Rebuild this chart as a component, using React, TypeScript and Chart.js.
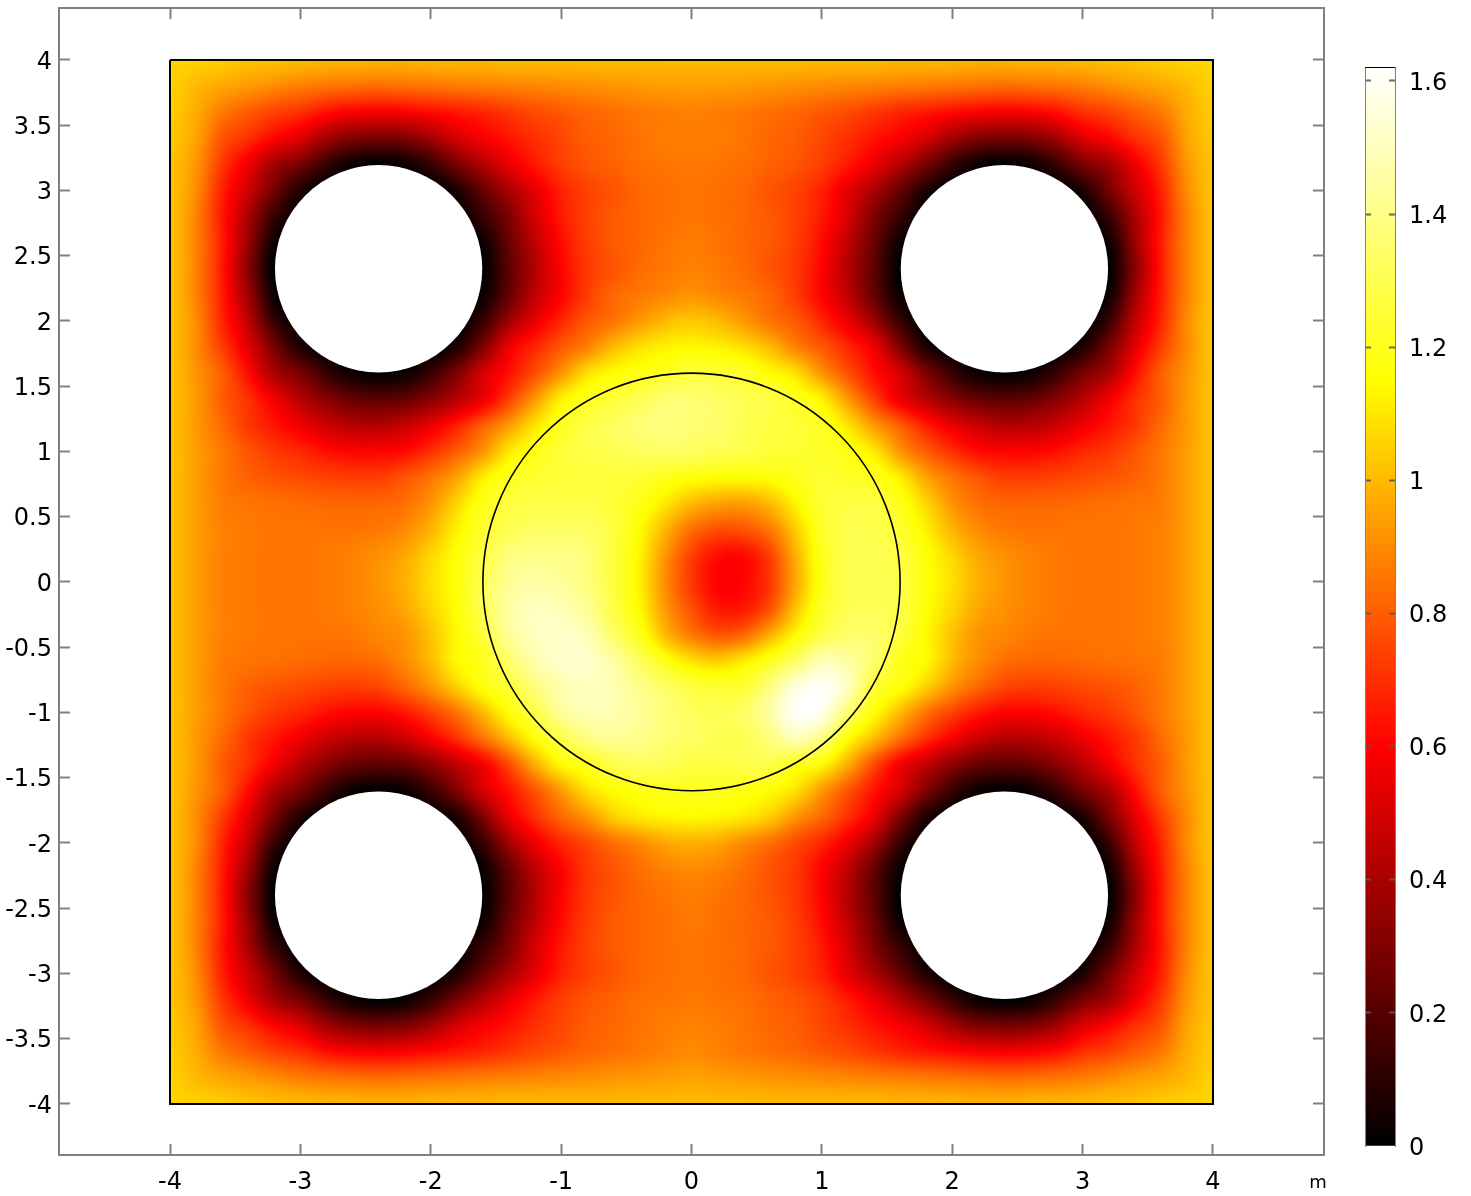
import React, { useEffect, useRef } from "react";
import { Chart, registerables } from "chart.js";

Chart.register(...registerables);

// Grid nodes run from -4 to 4 in 0.2 m steps; rows run from y = 4 down to y = -4.
const xNodes = [-4,-3.8,-3.6,-3.4,-3.2,-3,-2.8,-2.6,-2.4,-2.2,-2,-1.8,-1.6,-1.4,-1.2,-1,-0.8,-0.6,-0.4,-0.2,0,0.2,0.4,0.6,0.8,1,1.2,1.4,1.6,1.8,2,2.2,2.4,2.6,2.8,3,3.2,3.4,3.6,3.8,4];
const yNodes = [4,3.8,3.6,3.4,3.2,3,2.8,2.6,2.4,2.2,2,1.8,1.6,1.4,1.2,1,0.8,0.6,0.4,0.2,0,-0.2,-0.4,-0.6,-0.8,-1,-1.2,-1.4,-1.6,-1.8,-2,-2.2,-2.4,-2.6,-2.8,-3,-3.2,-3.4,-3.6,-3.8,-4];
const fieldRows = [
[1.06,1.05,1.04,1.02,1.01,1,.99,.99,.98,.98,.99,.99,.99,1,1,1,1,1,1,1,1,1,1,1,1,1,1,1,.99,.99,.99,.98,.98,.99,.99,1,1.01,1.02,1.04,1.05,1.06],
[1.05,1,.96,.93,.9,.87,.85,.84,.83,.84,.85,.86,.87,.88,.89,.9,.91,.92,.93,.94,.94,.94,.93,.92,.91,.9,.89,.88,.87,.86,.85,.84,.83,.84,.85,.87,.9,.93,.96,1,1.05],
[1.04,.97,.86,.8,.74,.7,.63,.59,.58,.59,.62,.65,.68,.72,.76,.79,.82,.84,.86,.87,.88,.87,.86,.84,.82,.79,.76,.72,.68,.65,.62,.59,.58,.59,.63,.7,.74,.8,.86,.97,1.04],
[1.03,.95,.78,.7,.6,.52,.38,.3,.28,.3,.38,.5,.58,.64,.7,.75,.8,.82,.85,.87,.87,.87,.85,.82,.8,.75,.7,.64,.58,.5,.38,.3,.28,.3,.38,.52,.6,.7,.78,.95,1.03],
[1.02,.92,.72,.56,.38,.28,.13,.03,0,.03,.13,.28,.42,.55,.65,.73,.78,.81,.84,.85,.86,.85,.84,.81,.78,.73,.65,.55,.42,.28,.13,.03,0,.03,.13,.28,.38,.56,.72,.92,1.02],
[1.02,.9,.67,.48,.27,.07,0,0,0,0,0,.07,.24,.4,.54,.67,.74,.78,.82,.84,.85,.84,.82,.78,.74,.67,.54,.4,.24,.07,0,0,0,0,0,.07,.27,.48,.67,.9,1.02],
[1.02,.88,.65,.4,.13,0,0,0,0,0,0,0,.13,.3,.5,.65,.74,.79,.82,.84,.85,.84,.82,.79,.74,.65,.5,.3,.13,0,0,0,0,0,0,0,.13,.4,.65,.88,1.02],
[1.02,.88,.66,.36,.03,0,0,0,0,0,0,0,.03,.25,.45,.62,.73,.79,.82,.85,.87,.85,.82,.79,.73,.62,.45,.25,.03,0,0,0,0,0,0,0,.03,.36,.66,.88,1.02],
[1.02,.88,.65,.32,0,0,0,0,0,0,0,0,0,.22,.42,.6,.72,.78,.83,.86,.88,.86,.83,.78,.72,.6,.42,.22,0,0,0,0,0,0,0,0,0,.32,.65,.88,1.02],
[1.02,.88,.66,.37,.03,0,0,0,0,0,0,0,.03,.24,.45,.6,.73,.82,.86,.89,.92,.89,.86,.82,.73,.6,.45,.24,.03,0,0,0,0,0,0,0,.03,.37,.66,.88,1.02],
[1.02,.9,.68,.45,.13,0,0,0,0,0,0,0,.13,.37,.55,.68,.79,.85,.93,1,1.03,1,.93,.85,.79,.68,.55,.37,.13,0,0,0,0,0,0,0,.13,.45,.68,.9,1.02],
[1.02,.9,.73,.53,.28,.07,0,0,0,0,0,.07,.3,.56,.68,.79,.88,1,1.08,1.12,1.14,1.12,1.08,1,.88,.79,.68,.56,.3,.07,0,0,0,0,0,.07,.28,.53,.73,.9,1.02],
[1.02,.92,.8,.62,.4,.28,.13,.03,0,.03,.13,.3,.5,.63,.77,.92,1.08,1.15,1.18,1.22,1.26,1.25,1.22,1.15,1.08,.92,.77,.63,.5,.3,.13,.03,0,.03,.13,.28,.4,.62,.8,.92,1.02],
[1.02,.93,.8,.7,.57,.43,.32,.24,.22,.24,.32,.43,.56,.74,.93,1.12,1.2,1.25,1.3,1.36,1.36,1.33,1.3,1.27,1.2,1.12,.93,.74,.56,.43,.32,.24,.22,.24,.32,.43,.57,.7,.8,.93,1.02],
[1.02,.93,.83,.72,.64,.56,.48,.43,.42,.47,.55,.66,.8,.93,1.09,1.2,1.28,1.32,1.36,1.38,1.36,1.34,1.3,1.27,1.25,1.2,1.09,.93,.8,.66,.55,.47,.42,.43,.48,.56,.64,.72,.83,.93,1.02],
[1.02,.94,.86,.78,.72,.68,.63,.6,.6,.62,.7,.8,.92,1.1,1.18,1.25,1.28,1.3,1.32,1.33,1.32,1.3,1.28,1.25,1.24,1.22,1.18,1.1,.92,.8,.7,.62,.6,.6,.63,.68,.72,.78,.86,.94,1.02],
[1.02,.94,.86,.81,.78,.76,.74,.73,.73,.78,.85,.95,1.11,1.2,1.24,1.25,1.26,1.26,1.24,1.2,1.17,1.15,1.15,1.16,1.2,1.24,1.22,1.2,1.11,.95,.85,.78,.73,.73,.74,.76,.78,.81,.86,.94,1.02],
[1.02,.94,.87,.85,.84,.83,.82,.82,.82,.84,.92,1.06,1.19,1.26,1.28,1.28,1.28,1.25,1.19,1.1,1,.95,.94,1,1.13,1.24,1.27,1.27,1.19,1.06,.92,.84,.82,.82,.82,.83,.84,.85,.87,.94,1.02],
[1.02,.94,.88,.86,.85,.85,.85,.85,.86,.9,.99,1.12,1.23,1.3,1.33,1.34,1.33,1.26,1.15,.99,.84,.77,.78,.86,1.04,1.22,1.29,1.29,1.23,1.12,.99,.9,.86,.85,.85,.85,.85,.86,.88,.94,1.02],
[1.02,.94,.88,.86,.85,.85,.86,.88,.91,.96,1.06,1.16,1.27,1.38,1.4,1.4,1.37,1.26,1.13,.92,.74,.63,.62,.74,.98,1.2,1.29,1.3,1.27,1.16,1.06,.96,.91,.88,.86,.85,.85,.86,.88,.94,1.02],
[1.02,.94,.88,.86,.85,.85,.86,.88,.92,.98,1.08,1.17,1.3,1.42,1.45,1.43,1.38,1.26,1.12,.9,.72,.6,.61,.72,.96,1.19,1.29,1.3,1.28,1.17,1.08,.98,.92,.88,.86,.85,.85,.86,.88,.94,1.02],
[1.02,.94,.88,.86,.85,.85,.86,.88,.91,.96,1.06,1.16,1.3,1.45,1.5,1.48,1.42,1.28,1.14,.93,.77,.65,.65,.77,1.02,1.22,1.3,1.31,1.28,1.16,1.06,.96,.91,.88,.86,.85,.85,.86,.88,.94,1.02],
[1.02,.94,.88,.86,.85,.85,.85,.86,.89,.92,1.02,1.14,1.26,1.43,1.5,1.52,1.48,1.34,1.2,1,.86,.78,.82,.97,1.14,1.28,1.34,1.34,1.26,1.14,1.02,.92,.89,.86,.85,.85,.85,.86,.88,.94,1.02],
[1.02,.94,.87,.85,.84,.83,.82,.82,.84,.9,1,1.14,1.2,1.35,1.47,1.52,1.52,1.45,1.32,1.18,1.08,1.04,1.1,1.2,1.33,1.48,1.44,1.35,1.2,1.14,1,.9,.84,.82,.82,.83,.84,.85,.87,.94,1.02],
[1.02,.94,.86,.81,.78,.76,.74,.73,.75,.82,.92,1.05,1.17,1.25,1.38,1.47,1.5,1.48,1.4,1.33,1.26,1.24,1.24,1.38,1.55,1.6,1.5,1.25,1.17,1.05,.92,.82,.75,.73,.74,.76,.78,.81,.86,.94,1.02],
[1.02,.94,.86,.78,.72,.68,.63,.6,.6,.65,.74,.85,1,1.16,1.28,1.43,1.48,1.47,1.43,1.37,1.32,1.3,1.33,1.45,1.6,1.58,1.35,1.16,1,.85,.74,.65,.6,.6,.63,.68,.72,.78,.86,.94,1.02],
[1.02,.93,.83,.72,.64,.56,.48,.43,.42,.48,.58,.7,.84,1,1.16,1.28,1.38,1.42,1.4,1.36,1.33,1.3,1.3,1.38,1.48,1.38,1.16,1,.84,.7,.58,.48,.42,.43,.48,.56,.64,.72,.83,.93,1.02],
[1.02,.93,.8,.7,.57,.43,.32,.24,.22,.24,.33,.45,.58,.76,.97,1.14,1.2,1.28,1.32,1.3,1.27,1.27,1.28,1.28,1.2,1.14,.97,.76,.58,.45,.33,.24,.22,.24,.32,.43,.57,.7,.8,.93,1.02],
[1.02,.92,.8,.62,.4,.28,.13,.03,0,.03,.13,.3,.5,.64,.78,.93,1.08,1.15,1.18,1.2,1.2,1.2,1.18,1.15,1.08,.93,.78,.64,.5,.3,.13,.03,0,.03,.13,.28,.4,.62,.8,.92,1.02],
[1.02,.9,.73,.53,.28,.07,0,0,0,0,0,.07,.3,.55,.7,.82,.92,1.04,1.1,1.13,1.14,1.13,1.1,1.04,.92,.82,.7,.55,.3,.07,0,0,0,0,0,.07,.28,.53,.73,.9,1.02],
[1.02,.9,.68,.45,.13,0,0,0,0,0,0,0,.13,.38,.56,.68,.76,.84,.9,.96,.98,.96,.9,.84,.76,.68,.56,.38,.13,0,0,0,0,0,0,0,.13,.45,.68,.9,1.02],
[1.02,.88,.66,.37,.03,0,0,0,0,0,0,0,.03,.24,.45,.6,.72,.78,.84,.88,.9,.88,.84,.78,.72,.6,.45,.24,.03,0,0,0,0,0,0,0,.03,.37,.66,.88,1.02],
[1.02,.88,.65,.32,0,0,0,0,0,0,0,0,0,.22,.42,.6,.72,.78,.82,.85,.87,.85,.82,.78,.72,.6,.42,.22,0,0,0,0,0,0,0,0,0,.32,.65,.88,1.02],
[1.02,.88,.66,.36,.03,0,0,0,0,0,0,0,.03,.25,.45,.62,.73,.79,.82,.84,.86,.84,.82,.79,.73,.62,.45,.25,.03,0,0,0,0,0,0,0,.03,.36,.66,.88,1.02],
[1.02,.88,.65,.4,.13,0,0,0,0,0,0,0,.13,.3,.5,.65,.74,.79,.82,.84,.85,.84,.82,.79,.74,.65,.5,.3,.13,0,0,0,0,0,0,0,.13,.4,.65,.88,1.02],
[1.02,.9,.67,.48,.27,.07,0,0,0,0,0,.07,.24,.4,.54,.67,.74,.78,.82,.84,.85,.84,.82,.78,.74,.67,.54,.4,.24,.07,0,0,0,0,0,.07,.27,.48,.67,.9,1.02],
[1.02,.92,.72,.56,.38,.28,.13,.03,0,.03,.13,.28,.42,.55,.65,.73,.78,.81,.84,.85,.86,.85,.84,.81,.78,.73,.65,.55,.42,.28,.13,.03,0,.03,.13,.28,.38,.56,.72,.92,1.02],
[1.03,.95,.78,.7,.6,.52,.38,.3,.28,.3,.38,.5,.58,.64,.7,.75,.8,.82,.85,.87,.88,.87,.85,.82,.8,.75,.7,.64,.58,.5,.38,.3,.28,.3,.38,.52,.6,.7,.78,.95,1.03],
[1.04,.97,.86,.8,.74,.7,.63,.59,.58,.59,.62,.65,.68,.72,.76,.79,.82,.84,.86,.88,.9,.88,.86,.84,.82,.79,.76,.72,.68,.65,.62,.59,.58,.59,.63,.7,.74,.8,.86,.97,1.04],
[1.05,1,.96,.93,.9,.87,.85,.84,.83,.84,.85,.86,.87,.88,.89,.9,.91,.92,.93,.94,.95,.94,.93,.92,.91,.9,.89,.88,.87,.86,.85,.84,.83,.84,.85,.87,.9,.93,.96,1,1.05],
[1.06,1.05,1.04,1.02,1.01,1,.99,.99,.98,.98,.99,.99,.99,1,1,1,1,1,1,1,1,1,1,1,1,1,1,1,.99,.99,.99,.98,.98,.99,.99,1,1.01,1.02,1.04,1.05,1.06],
];

const holeCentersX = [-2.4, 2.4, -2.4, 2.4];
const holeCentersY = [2.4, 2.4, -2.4, -2.4];
const holeRadius = 0.795;
const diskRadius = 1.6;
const squareX = [-4, 4, 4, -4, -4];
const squareY = [4, 4, -4, -4, 4];
const colorbarRange = [0, 1.621];
const unitLabel = "m";

const FONT = "'DejaVu Sans'";
const AXIS_GREY = "#808080";

function hot(v: number): [number, number, number] {
  const c = (t: number) => Math.round(255 * Math.max(0, Math.min(1, t)));
  return [c(v / 0.6), c((v - 0.6) / 0.55), c((v - 1.15) / 0.47)];
}

function crWeights(t: number): [number, number, number, number] {
  const t2 = t * t;
  const t3 = t2 * t;
  return [
    0.5 * (-t3 + 2 * t2 - t),
    0.5 * (3 * t3 - 5 * t2 + 2),
    0.5 * (-3 * t3 + 4 * t2 + t),
    0.5 * (t3 - t2),
  ];
}

const labelNudgePlugin = {
  id: "labelNudge",
  beforeDraw(chart: any) {
    const s = chart.scales.y;
    if (!s || s._nudged) return;
    s.getLabelItems(chart.chartArea).forEach((item: any) => {
      item.options.translation[1] += 2.5;
    });
    s._nudged = true;
  },
};

const fieldPlugin = {
  id: "field",
  beforeDatasetsDraw(chart: any) {
    const { ctx, scales } = chart;
    const pts = chart.data.datasets[0].data as { x: number; y: number; v: number }[];
    const nx = xNodes.length;
    const ny = yNodes.length;
    const at = (r: number, c: number) =>
      pts[Math.max(0, Math.min(ny - 1, r)) * nx + Math.max(0, Math.min(nx - 1, c))].v;

    const left = Math.round(scales.x.getPixelForValue(xNodes[0]));
    const right = Math.round(scales.x.getPixelForValue(xNodes[nx - 1]));
    const top = Math.round(scales.y.getPixelForValue(yNodes[0]));
    const bottom = Math.round(scales.y.getPixelForValue(yNodes[ny - 1]));
    const w = right - left;
    const h = bottom - top;
    const off = document.createElement("canvas");
    off.width = w;
    off.height = h;
    const oc = off.getContext("2d")!;
    const img = oc.createImageData(w, h);
    const dx = xNodes[1] - xNodes[0];
    const dy = yNodes[1] - yNodes[0];

    for (let py = 0; py < h; py++) {
      const fr = (scales.y.getValueForPixel(top + py + 0.5) - yNodes[0]) / dy;
      const r0 = Math.floor(fr);
      const wy = crWeights(fr - r0);
      for (let px = 0; px < w; px++) {
        const fc = (scales.x.getValueForPixel(left + px + 0.5) - xNodes[0]) / dx;
        const c0 = Math.floor(fc);
        const wx = crWeights(fc - c0);
        let v = 0;
        for (let j = 0; j < 4; j++) {
          for (let i = 0; i < 4; i++) {
            v += wy[j] * wx[i] * at(r0 + j - 1, c0 + i - 1);
          }
        }
        const [rr, gg, bb] = hot(v);
        const o = (py * w + px) * 4;
        img.data[o] = rr;
        img.data[o + 1] = gg;
        img.data[o + 2] = bb;
        img.data[o + 3] = 255;
      }
    }
    oc.putImageData(img, 0, 0);

    ctx.save();
    ctx.drawImage(off, left, top);
    ctx.fillStyle = "#ffffff";
    holeCentersX.forEach((cx, i) => {
      const hx = scales.x.getPixelForValue(cx);
      const hy = scales.y.getPixelForValue(holeCentersY[i]);
      const rx = Math.abs(scales.x.getPixelForValue(cx + holeRadius) - hx);
      const ry = Math.abs(scales.y.getPixelForValue(holeCentersY[i] + holeRadius) - hy);
      ctx.beginPath();
      ctx.ellipse(hx, hy, rx, ry, 0, 0, Math.PI * 2);
      ctx.fill();
    });
    ctx.restore();
  },
  afterDatasetsDraw(chart: any) {
    const { ctx, scales } = chart;
    const px = scales.x.getPixelForValue(0);
    const py = scales.y.getPixelForValue(0);
    const rx = Math.abs(scales.x.getPixelForValue(diskRadius) - px);
    const ry = Math.abs(scales.y.getPixelForValue(diskRadius) - py);
    ctx.save();
    ctx.strokeStyle = "#000000";
    ctx.lineWidth = 1.6;
    ctx.beginPath();
    ctx.ellipse(px, py, rx, ry, 0, 0, Math.PI * 2);
    ctx.stroke();
    ctx.restore();
  },
  afterDraw(chart: any) {
    const { ctx } = chart;
    ctx.save();
    ctx.fillStyle = "#000000";
    ctx.font = `18px ${FONT}`;
    ctx.textAlign = "center";
    ctx.textBaseline = "alphabetic";
    ctx.fillText(unitLabel, 1318, 1188);
    ctx.restore();
  },
};

const colorbarPlugin = {
  id: "colorbarTop",
  afterDraw(chart: any) {
    const { ctx, chartArea } = chart;
    ctx.save();
    ctx.strokeStyle = "#000000";
    ctx.lineWidth = 1;
    ctx.beginPath();
    ctx.moveTo(chartArea.left, chartArea.top + 0.5);
    ctx.lineTo(chartArea.right, chartArea.top + 0.5);
    ctx.stroke();
    ctx.restore();
  },
};

const zeroPad = (s: any) => {
  s.paddingTop = 0;
  s.paddingBottom = 0;
  s.paddingLeft = 0;
  s.paddingRight = 0;
};
const fixedWidth = (w: number) => (s: any) => {
  s.width = w;
  zeroPad(s);
};
const fixedHeight = (h: number) => (s: any) => {
  s.height = h;
  zeroPad(s);
};

const XMIN = -4.8514;
const XMAX = 4.8514;
const YMIN = -4.391;
const YMAX = 4.398;

function axisBase(extra: any) {
  return {
    border: { display: true, color: AXIS_GREY, width: 2 },
    grid: {
      drawOnChartArea: false,
      drawTicks: true,
      tickLength: -11,
      tickColor: AXIS_GREY,
      tickWidth: 2,
    },
    ...extra,
  };
}

const colorbarGrid = {
  drawOnChartArea: false,
  drawTicks: true,
  tickLength: -6,
  tickColor: (c: any) => (c.tick && c.tick.value === 0 ? "rgba(0,0,0,0)" : "rgba(90,90,90,0.9)"),
  tickWidth: 2,
  z: 1,
};

export default function App() {
  const mainRef = useRef<HTMLCanvasElement>(null);
  const barRef = useRef<HTMLCanvasElement>(null);

  useEffect(() => {
    const points: { x: number; y: number; v: number }[] = [];
    yNodes.forEach((y, r) => xNodes.forEach((x, c) => points.push({ x, y, v: fieldRows[r][c] })));

    const tickFont = { family: FONT, size: 24 };
    const main = new Chart(mainRef.current!, {
      type: "scatter",
      data: {
        datasets: [
          { data: points, pointRadius: 0, showLine: false } as any,
          {
            data: squareX.map((x, i) => ({ x, y: squareY[i] })),
            showLine: true,
            pointRadius: 0,
            borderColor: "#000000",
            borderWidth: 2,
            fill: false,
            tension: 0,
          } as any,
        ],
      },
      options: {
        animation: false,
        responsive: false,
        events: [],
        layout: { padding: 0, autoPadding: false },
        plugins: { legend: { display: false }, tooltip: { enabled: false } },
        scales: {
          x: axisBase({
            type: "linear",
            position: "bottom",
            min: XMIN,
            max: XMAX,
            afterFit: fixedHeight(1196 - 1155),
            ticks: {
              stepSize: 1,
              includeBounds: false,
              maxRotation: 0,
              autoSkip: false,
              padding: 24,
              color: "#000000",
              font: tickFont,
              callback: (v: any) => String(v),
            },
          }),
          x2: axisBase({
            type: "linear",
            axis: "x",
            position: "top",
            min: XMIN,
            max: XMAX,
            afterFit: fixedHeight(8),
            ticks: { stepSize: 1, includeBounds: false, display: false },
          }),
          y: axisBase({
            type: "linear",
            position: "left",
            min: YMIN,
            max: YMAX,
            afterFit: fixedWidth(59),
            ticks: {
              stepSize: 0.5,
              includeBounds: false,
              autoSkip: false,
              padding: 18,
              color: "#000000",
              font: tickFont,
              callback: (v: any) => String(v),
            },
          }),
          y2: axisBase({
            type: "linear",
            axis: "y",
            position: "right",
            min: YMIN,
            max: YMAX,
            afterFit: fixedWidth(1471 - 1324),
            ticks: { stepSize: 0.5, includeBounds: false, display: false },
          }),
        },
      } as any,
      plugins: [fieldPlugin, labelNudgePlugin],
    });

    const bar = new Chart(barRef.current!, {
      type: "bar",
      data: {
        labels: ["colorbar"],
        datasets: [
          {
            data: [colorbarRange as any],
            barPercentage: 1,
            categoryPercentage: 1,
            borderWidth: 0,
            backgroundColor: (c: any) => {
              const area = c.chart.chartArea;
              if (!area) return "#000000";
              const y = c.chart.scales.y;
              const g = c.chart.ctx.createLinearGradient(
                0,
                y.getPixelForValue(colorbarRange[0]),
                0,
                y.getPixelForValue(colorbarRange[1])
              );
              g.addColorStop(0, "rgb(0,0,0)");
              g.addColorStop(0.6 / colorbarRange[1], "rgb(255,0,0)");
              g.addColorStop(1.15 / colorbarRange[1], "rgb(255,255,0)");
              g.addColorStop(1, "rgb(255,255,255)");
              return g;
            },
          } as any,
        ],
      },
      options: {
        animation: false,
        responsive: false,
        events: [],
        layout: { padding: { top: 67, bottom: 1196 - 1146, left: 0, right: 0 }, autoPadding: false },
        plugins: { legend: { display: false }, tooltip: { enabled: false } },
        scales: {
          x: { display: false, offset: true },
          y: {
            type: "linear",
            position: "right",
            min: colorbarRange[0],
            max: colorbarRange[1],
            afterFit: fixedWidth(1471 - 1395),
            border: { display: true, color: AXIS_GREY, width: 1, z: 1 },
            grid: colorbarGrid,
            ticks: {
              stepSize: 0.2,
              includeBounds: false,
              autoSkip: false,
              padding: 20,
              color: "#000000",
              font: tickFont,
              callback: (v: any) => String(Math.round(v * 10) / 10),
            },
          },
          y3: {
            type: "linear",
            axis: "y",
            position: "left",
            min: colorbarRange[0],
            max: colorbarRange[1],
            afterFit: fixedWidth(1365 - 1340),
            border: { display: true, color: AXIS_GREY, width: 1, z: 1 },
            grid: colorbarGrid,
            ticks: { stepSize: 0.2, includeBounds: false, display: false },
          },
        },
      } as any,
      plugins: [colorbarPlugin, labelNudgePlugin],
    });

    return () => {
      main.destroy();
      bar.destroy();
    };
  }, []);

  return (
    <div style={{ position: "absolute", left: 0, top: 0, width: 1471, height: 1196, overflow: "hidden", background: "#ffffff" }}>
      <canvas ref={mainRef} width={1471} height={1196} style={{ position: "absolute", left: 0, top: 0 }} />
      <canvas ref={barRef} width={131} height={1196} style={{ position: "absolute", left: 1340, top: 0 }} />
    </div>
  );
}
